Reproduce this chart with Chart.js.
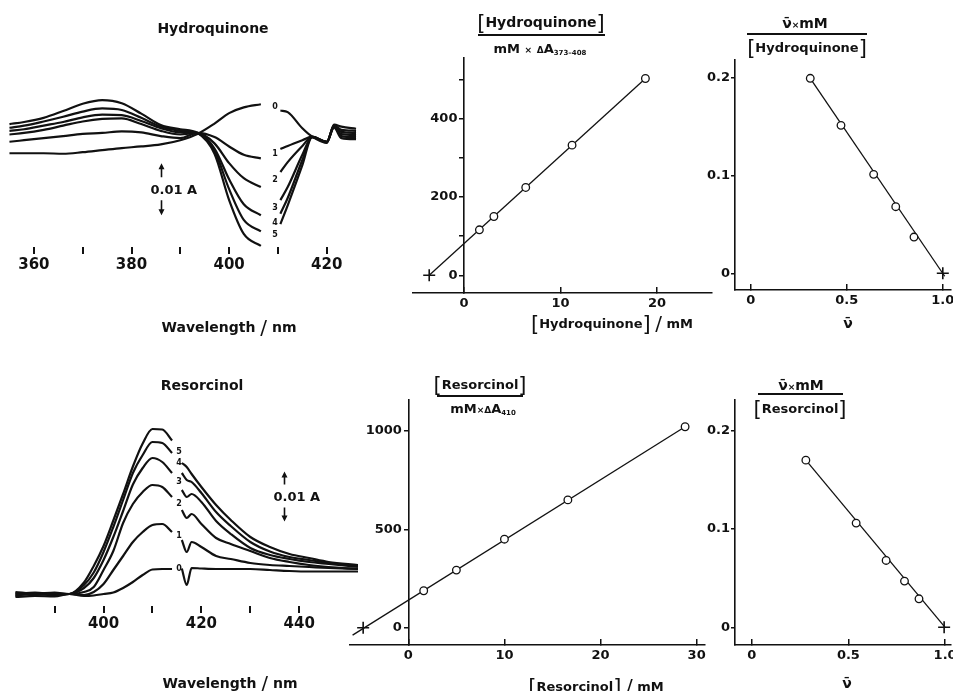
<!DOCTYPE html>
<html>
<head>
<meta charset="utf-8">
<script src="https://cdn.jsdelivr.net/npm/chart.js@4.4.1/dist/chart.umd.min.js"></script>
<style>
  html, body { margin: 0; padding: 0; width: 953px; height: 691px; overflow: hidden; background: #fff; }
  canvas { position: absolute; left: 0; top: 0; }
  .lab { position: absolute; transform: translate(-50%, -50%); font: bold 14px "DejaVu Sans", sans-serif;
         color: #111; white-space: nowrap; line-height: 1; }
  .sm { font-size: 13px; }
  .br { font-weight: normal; font-size: 21px; vertical-align: -3px; }
  .sl { font-weight: normal; font-size: 20px; vertical-align: -2px; }
  .mul { font-size: 9px; }
  .dl { font-size: 9px; }
  sub { font-size: 7px; vertical-align: -2px; }
  .rule { position: absolute; height: 1.5px; background: #111; }
</style>
</head>
<body>
<canvas id="hqSpec" width="1100" height="800"></canvas>
<canvas id="hqPlot" width="1100" height="800"></canvas>
<canvas id="hqScat" width="1100" height="800"></canvas>
<canvas id="resSpec" width="1100" height="800"></canvas>
<canvas id="resPlot" width="1100" height="800"></canvas>
<canvas id="resScat" width="1100" height="800"></canvas>

<div class="lab" style="left:213px;top:28px">Hydroquinone</div>
<div class="lab" style="left:229px;top:327px">Wavelength <span class="sl">/</span> nm</div>
<div class="lab" style="left:202px;top:385px">Resorcinol</div>
<div class="lab" style="left:230px;top:683px">Wavelength <span class="sl">/</span> nm</div>

<div class="lab" style="left:541px;top:23px"><span class="br">[</span>Hydroquinone<span class="br">]</span></div>
<div class="rule" style="left:478px;top:34px;width:127px"></div>
<div class="lab sm" style="left:540px;top:49px">mM <span class="mul">×</span> <span class="dl">Δ</span>A<sub>373–408</sub></div>
<div class="lab sm" style="left:612px;top:324px"><span class="br">[</span>Hydroquinone<span class="br">]</span> <span class="sl">/</span> mM</div>

<div class="lab" style="left:805px;top:23px">ν̄<span class="mul">×</span>mM</div>
<div class="rule" style="left:747px;top:33px;width:120px"></div>
<div class="lab sm" style="left:807px;top:48px"><span class="br">[</span>Hydroquinone<span class="br">]</span></div>
<div class="lab" style="left:848px;top:323px">ν̄</div>

<div class="lab sm" style="left:480px;top:385px"><span class="br">[</span>Resorcinol<span class="br">]</span></div>
<div class="rule" style="left:437px;top:395px;width:86px"></div>
<div class="lab sm" style="left:483px;top:409px">mM<span class="mul">×</span><span class="dl">Δ</span>A<sub>410</sub></div>
<div class="lab sm" style="left:596px;top:687px"><span class="br">[</span>Resorcinol<span class="br">]</span> <span class="sl">/</span> mM</div>

<div class="lab" style="left:801px;top:385px">ν̄<span class="mul">×</span>mM</div>
<div class="rule" style="left:758px;top:393px;width:85px"></div>
<div class="lab sm" style="left:800px;top:409px"><span class="br">[</span>Resorcinol<span class="br">]</span></div>
<div class="lab" style="left:847px;top:683px">ν̄</div>

<script>
// difference spectra, hydroquinone (ΔA in units of 0.001 A, curves 0..5)
const hqWave = [355, 358, 362, 366, 370, 374, 378, 382, 386, 390, 393.5, 397, 400, 403, 406.5, 409, 410.5, 412, 415, 417, 420, 421.5, 423, 426];
const hq0 = [-3.9, -3.9, -3.9, -4.0, -3.7, -3.3, -2.9, -2.6, -2.2, -1.4, -0.2, 1.8, 3.8, 4.9, 5.5, null, 4.3, 4.0, 0.9, -0.7, -1.9, 1.6, 1.2, 0.8];
const hq1 = [-1.7, -1.4, -1.0, -0.6, -0.2, 0.0, 0.3, 0.1, -0.6, -1.0, 0.0, -0.8, -2.6, -4.2, -4.9, null, -3.1, -2.5, -1.4, -0.7, -1.9, 1.4, 0.6, 0.4];
const hq2 = [-0.3, 0.0, 0.6, 1.4, 2.2, 2.7, 2.8, 1.7, 0.4, -0.3, 0.0, -2.0, -5.8, -8.7, -10.4, null, -7.5, -5.6, -2.5, -0.7, -1.7, 1.4, 0.2, 0.0];
const hq3 = [0.4, 0.7, 1.4, 2.1, 3.0, 3.5, 3.4, 2.3, 0.9, 0.1, 0.0, -3.0, -8.9, -13.7, -15.8, null, -12.9, -10.4, -4.2, -0.8, -1.7, 1.2, -0.2, -0.4];
const hq4 = [1.0, 1.4, 2.2, 3.1, 4.1, 4.7, 4.4, 2.9, 1.2, 0.4, 0.0, -3.4, -10.8, -16.7, -18.9, null, -15.5, -12.5, -5.2, -0.8, -1.7, 1.2, -0.6, -0.8];
const hq5 = [1.7, 2.1, 2.9, 4.2, 5.6, 6.3, 5.7, 3.7, 1.5, 0.7, 0.0, -4.0, -12.9, -19.4, -21.7, null, -17.5, -13.9, -6.2, -0.8, -1.7, 1.0, -1.0, -1.2];
const hqWaveTicks = [360, 370, 380, 390, 400, 410, 420];
const hqWaveLabels = [360, 380, 400, 420];

// difference spectra, resorcinol
const resWave = [382, 386, 390, 393, 396, 398, 400, 402, 404, 406, 408, 410, 412, 414, 415, 416, 417, 418, 420, 423, 426, 430, 434, 438, 442, 446, 452];
const res0 = [-0.6, -0.4, -0.5, 0.0, -0.4, -0.3, 0.0, 0.3, 1.2, 2.4, 3.8, 4.9, 5.0, 5.0, null, 5.1, 1.8, 5.2, 5.1, 5.0, 5.0, 5.0, 4.8, 4.6, 4.5, 4.5, 4.5];
const res1 = [-0.2, 0.0, -0.3, 0.0, -0.2, 0.4, 2.0, 4.8, 7.6, 10.4, 12.4, 13.8, 14.0, 12.4, null, 10.8, 8.4, 10.4, 9.4, 7.6, 7.0, 6.2, 5.8, 5.6, 5.4, 5.2, 5.0];
const res2 = [0.2, -0.2, 0.1, 0.0, 0.4, 1.4, 4.8, 8.6, 14.2, 18.0, 20.4, 21.8, 21.4, 19.4, null, 16.8, 15.2, 16.0, 14.0, 11.2, 10.0, 8.6, 7.2, 6.4, 5.8, 5.4, 5.0];
const res3 = [-0.4, 0.2, -0.1, 0.0, 1.2, 3.2, 6.8, 11.4, 16.6, 21.9, 25.2, 27.2, 26.4, 24.2, null, 20.8, 19.4, 20.0, 18.4, 14.6, 12.0, 9.2, 7.8, 7.0, 6.4, 6.0, 5.4];
const res4 = [0.4, 0.1, 0.3, 0.0, 1.8, 4.3, 8.4, 13.4, 18.8, 24.2, 27.8, 30.4, 30.2, 28.2, null, 24.2, 22.8, 22.4, 20.2, 16.4, 13.6, 10.4, 8.5, 7.4, 6.8, 6.2, 5.6];
const res5 = [0.0, 0.3, 0.0, 0.0, 2.3, 5.6, 9.6, 14.7, 20.0, 25.5, 30.1, 33.0, 32.9, 30.7, null, 26.2, 25.4, 24.0, 21.4, 17.8, 14.8, 11.4, 9.4, 8.0, 7.2, 6.4, 5.8];
const resWaveTicks = [390, 400, 410, 420, 430, 440];
const resWaveLabels = [400, 420, 440];

// [Hydroquinone] / (mM x dA) against [Hydroquinone]
const hqConc = [1.6, 3.1, 6.4, 11.2, 18.8];
const hqRatio = [116, 150, 224, 332, 502];
const hqFitX = [-3.6, 18.8];
const hqFitY = [0, 502];
const hqCross = [-3.6, 0];

// Scatchard, hydroquinone
const hqNu = [0.31, 0.47, 0.64, 0.755, 0.85];
const hqNuRatio = [0.199, 0.151, 0.101, 0.068, 0.037];
const hqNuFitX = [0.31, 1.01];
const hqNuFitY = [0.199, -0.003];
const hqNuCross = [1.0, 0];

// [Resorcinol] / (mM x dA410) against [Resorcinol]
const resConc = [1.6, 5.0, 10.0, 16.6, 28.8];
const resRatio = [188, 293, 450, 650, 1022];
const resFitX = [-5.8, 28.8];
const resFitY = [-38, 1022];
const resCross = [-4.7, 0];

// Scatchard, resorcinol
const resNu = [0.28, 0.54, 0.695, 0.79, 0.865];
const resNuRatio = [0.170, 0.106, 0.068, 0.047, 0.029];
const resNuFitX = [0.28, 1.0];
const resNuFitY = [0.170, 0];
const resNuCross = [0.995, 0];

const INK = '#111';
const CW = 1100, CH = 800;
const XH = 40, YW = 40;   // fixed axis box sizes
Chart.defaults.font.family = '"DejaVu Sans", sans-serif';
Chart.defaults.font.weight = 'bold';
Chart.defaults.color = INK;

function fixFit(scale) {
  if (scale.isHorizontal()) scale.height = XH; else scale.width = YW;
}
function pad(a, leftAxis) {
  return { left: a.left - (leftAxis ? YW : 0), top: a.top, right: CW - a.right, bottom: CH - a.bottom - XH };
}
function fixTicks(vals) {
  return scale => { scale.ticks = vals.map(v => ({ value: v })); };
}
const pts = (xs, ys) => xs.map((x, i) => ({ x, y: ys[i] }));

// curve numbers in the gaps + the 0.01 A bar
const spectrumMarks = {
  id: 'spectrumMarks',
  afterDatasetsDraw(chart, args, opts) {
    const { ctx } = chart;
    const x = chart.scales.x, y = chart.scales.y;
    ctx.save();
    ctx.fillStyle = INK;
    ctx.strokeStyle = INK;
    ctx.font = 'bold 8px "DejaVu Sans"';
    ctx.textAlign = 'center';
    ctx.textBaseline = 'middle';
    chart.data.datasets.forEach(ds => {
      const k = ds.data.findIndex(p => p.y === null);
      if (k < 1) return;
      const py = (y.getPixelForValue(ds.data[k - 1].y) + y.getPixelForValue(ds.data[k + 1].y)) / 2;
      ctx.fillText(ds.label, x.getPixelForValue(ds.data[k].x) + 2, py);
    });

    const b = opts.bar;
    const bx = Math.round(x.getPixelForValue(b.x)) + 0.5;
    const top = y.getPixelForValue(b.hi), bot = y.getPixelForValue(b.lo);
    const mid = (top + bot) / 2;
    ctx.lineWidth = 1.6;
    ctx.beginPath();
    ctx.moveTo(bx, top + 4); ctx.lineTo(bx, mid - 12);
    ctx.moveTo(bx, mid + 11); ctx.lineTo(bx, bot - 4);
    ctx.stroke();
    ctx.beginPath();
    ctx.moveTo(bx, top); ctx.lineTo(bx - 3, top + 6); ctx.lineTo(bx + 3, top + 6);
    ctx.moveTo(bx, bot); ctx.lineTo(bx - 3, bot - 6); ctx.lineTo(bx + 3, bot - 6);
    ctx.fill();
    ctx.font = 'bold 13px "DejaVu Sans"';
    ctx.textAlign = 'left';
    ctx.fillText('0.01 A', bx - 11, mid + 1);
    ctx.restore();
  }
};

function spectrum(id, area, xr, yr, wave, curves, tickVals, labelVals, bar) {
  new Chart(document.getElementById(id), {
    type: 'line',
    data: {
      datasets: curves.map((vals, i) => ({
        label: String(i),
        data: pts(wave, vals),
        borderColor: INK,
        borderWidth: 2.2,
        pointRadius: 0,
        cubicInterpolationMode: 'monotone',
        spanGaps: false,
      })),
    },
    options: {
      responsive: false,
      animation: false,
      events: [],
      layout: { padding: pad(area, false) },
      plugins: { legend: { display: false }, tooltip: { enabled: false }, spectrumMarks: { bar } },
      scales: {
        x: {
          type: 'linear', min: xr[0], max: xr[1],
          afterFit: fixFit,
          afterBuildTicks: fixTicks(tickVals),
          border: { display: false },
          grid: { drawOnChartArea: false, drawTicks: true, tickLength: 7, lineWidth: 2, color: INK },
          ticks: {
            autoSkip: false, maxRotation: 0, padding: 2,
            font: { size: 15, weight: 'bold' },
            callback: v => labelVals.includes(v) ? String(v) : '',
          },
        },
        y: { display: false, min: yr[0], max: yr[1] },
      },
    },
    plugins: [spectrumMarks],
  });
}

function plot(id, area, xr, yr, xTicks, yTicks, yLabels, fmt, yPos, points, fit, cross) {
  const onLeft = yPos === 'left';
  new Chart(document.getElementById(id), {
    type: 'scatter',
    data: {
      datasets: [
        { data: points, pointRadius: 3.8, pointBackgroundColor: '#fff', pointBorderColor: INK, pointBorderWidth: 1.3 },
        { data: [cross], pointStyle: 'cross', pointRadius: 6, pointBorderColor: INK, pointBorderWidth: 1.6 },
        { data: fit, showLine: true, borderColor: INK, borderWidth: 1.3, pointRadius: 0 },
      ],
    },
    options: {
      responsive: false,
      animation: false,
      events: [],
      layout: { padding: pad(area, onLeft) },
      plugins: { legend: { display: false }, tooltip: { enabled: false } },
      scales: {
        x: {
          type: 'linear', position: 'bottom', min: xr[0], max: xr[1],
          afterFit: fixFit,
          afterBuildTicks: fixTicks(xTicks),
          border: { display: true, color: INK, width: 1.6 },
          grid: { drawOnChartArea: false, drawTicks: true, tickLength: -6, lineWidth: 1.5, color: INK },
          ticks: { autoSkip: false, maxRotation: 0, padding: 9, font: { size: 13, weight: 'bold' }, callback: fmt },
        },
        y: {
          type: 'linear', position: yPos, min: yr[0], max: yr[1],
          afterFit: fixFit,
          afterBuildTicks: fixTicks(yTicks),
          border: { display: true, color: INK, width: 1.6 },
          grid: { drawOnChartArea: false, drawTicks: true, tickLength: 4, lineWidth: 1.5, color: INK },
          ticks: {
            autoSkip: false, padding: 1, font: { size: 13, weight: 'bold' },
            // an axis placed at x = 0 gets no tick padding, so push its labels off with an en space
            callback: v => yLabels.includes(v) ? fmt(v) + (onLeft ? '' : '\u2002') : '',
          },
        },
      },
    },
  });
}

const plain = v => String(v);
const dec = v => (v === 0 ? '0' : v.toFixed(1));

spectrum('hqSpec', { left: 8, top: 60, right: 358, bottom: 247 }, [354.7, 426.4], [-21.9, 14.0],
  hqWave, [hq0, hq1, hq2, hq3, hq4, hq5], hqWaveTicks, hqWaveLabels, { x: 386.0, lo: -15.8, hi: -5.8 });

spectrum('resSpec', { left: 13, top: 400, right: 358, bottom: 606 }, [381.5, 452.0], [-2.4, 38.8],
  resWave, [res0, res1, res2, res3, res4, res5], resWaveTicks, resWaveLabels, { x: 436.8, lo: 14.5, hi: 24.5 });

plot('hqPlot', { left: 413, top: 58, right: 712, bottom: 293 }, [-5.28, 25.7], [-45.2, 554.3],
  [0, 10, 20], [0, 100, 200, 300, 400, 500], [0, 200, 400], plain, { x: 0 },
  pts(hqConc, hqRatio), pts(hqFitX, hqFitY), { x: hqCross[0], y: hqCross[1] });

plot('hqScat', { left: 735, top: 60, right: 951, bottom: 290 }, [-0.0818, 1.0427], [-0.01704, 0.2177],
  [0, 0.5, 1], [0, 0.1, 0.2], [0, 0.1, 0.2], dec, 'left',
  pts(hqNu, hqNuRatio), pts(hqNuFitX, hqNuFitY), { x: hqNuCross[0], y: hqNuCross[1] });

plot('resPlot', { left: 350, top: 400, right: 705, bottom: 645 }, [-6.07, 30.87], [-88, 1158],
  [0, 10, 20, 30], [0, 500, 1000], [0, 500, 1000], plain, { x: 0 },
  pts(resConc, resRatio), pts(resFitX, resFitY), { x: resCross[0], y: resCross[1] });

plot('resScat', { left: 735, top: 400, right: 951, bottom: 645 }, [-0.0864, 1.0305], [-0.018, 0.2312],
  [0, 0.5, 1], [0, 0.1, 0.2], [0, 0.1, 0.2], dec, 'left',
  pts(resNu, resNuRatio), pts(resNuFitX, resNuFitY), { x: resNuCross[0], y: resNuCross[1] });
</script>
</body>
</html>
